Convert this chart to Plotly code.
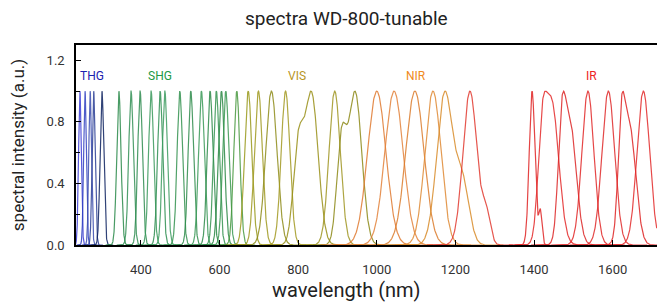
import numpy as np
import plotly.graph_objects as go

# ---- data (peak centre / FWHM in nm) ----
thg_center = [245, 258, 271, 280, 301]
thg_fwhm = [8, 8, 8, 9, 11]
thg_colors = ["#3b3bd6", "#2f3fc0", "#3a4cae", "#2b3f96", "#0d2260"]

shg_center = [344, 375, 398, 426, 449, 461, 499, 527, 554, 576, 592, 605, 616, 644]
shg_fwhm = [13, 14, 14, 15, 15, 15, 16, 16, 17, 17, 17, 18, 18, 18]
shg_colors = ["#2a8a4a", "#339156", "#2e8c50", "#3a9a5c", "#2f8f52", "#3c9c60",
              "#33924f", "#2f8c4c", "#3a9a58", "#2c8a48", "#349450", "#2a8844",
              "#3a9852", "#4a9a40"]

vis_center = [673, 699, 732, 768, 834, 893, 945]
vis_fwhm = [22, 24, 34, 26, 40, 34, 40]
vis_colors = ["#9a9a1c", "#a09a20", "#8f8c1a", "#a39a22", "#999018", "#a09622", "#8e8a18"]

nir_center = [1000, 1044, 1097, 1143, 1173, 1237]
nir_fwhm = [55, 55, 55, 48, 48, 42]
nir_colors = ["#e07a30", "#e3823a", "#dc7c2c", "#e08a34", "#d98c2a", "#e23a30"]

ir_center = [1395, 1445, 1491, 1537, 1589, 1642, 1678]
ir_fwhm = [17, 42, 38, 36, 38, 38, 38]
ir_colors = ["#e02424", "#e42a2a", "#dd2626", "#e22828", "#e02a2a", "#df2424", "#e32a2a"]

# secondary shoulders: (group, index, centre nm, relative amplitude, fwhm nm)
shoulders = [
    ("vis", 4, 800, 0.62, 30),
    ("vis", 6, 910, 0.65, 28),
    ("nir", 4, 1218, 0.40, 40),
    ("nir", 5, 1278, 0.20, 25),
    ("ir", 0, 1416, 0.22, 10),
    ("ir", 1, 1420, 0.60, 25),
    ("ir", 2, 1470, 0.75, 22),
    ("ir", 5, 1622, 0.75, 20),
]
last_end = 1712  # last IR trace stops here

group_labels = ["THG", "SHG", "VIS", "NIR", "IR"]
group_label_x = [276, 449, 797, 1100, 1547]
group_label_colors = ["#1a22b0", "#229944", "#b8961e", "#f08a20", "#ee2222"]

groups = {
    "thg": (thg_center, thg_fwhm, thg_colors),
    "shg": (shg_center, shg_fwhm, shg_colors),
    "vis": (vis_center, vis_fwhm, vis_colors),
    "nir": (nir_center, nir_fwhm, nir_colors),
    "ir": (ir_center, ir_fwhm, ir_colors),
}


def gauss(x, c, w):
    s = w / 2.3548
    return np.exp(-0.5 * ((x - c) / s) ** 2)


fig = go.Figure()
for gname, (cen, fw, cols) in groups.items():
    for i, (c, w, col) in enumerate(zip(cen, fw, cols)):
        extra = [s for s in shoulders if s[0] == gname and s[1] == i]
        lo = c - 2.6 * w
        hi = c + 2.6 * w
        for s in extra:
            lo = min(lo, s[2] - 2.6 * s[4])
            hi = max(hi, s[2] + 2.6 * s[4])
        if gname == "ir" and i == len(cen) - 1:
            hi = last_end
        x = np.linspace(lo, hi, 300)
        y = gauss(x, c, w)
        for s in extra:
            y = y + s[3] * gauss(x, s[2], s[4])
        y = y / y.max()
        fig.add_trace(go.Scatter(x=x, y=y, mode="lines",
                                 line=dict(color=col, width=1.2),
                                 opacity=0.85, showlegend=False, hoverinfo="skip"))

for lab, lx, lc in zip(group_labels, group_label_x, group_label_colors):
    fig.add_annotation(x=lx, y=1.1, text=lab, showarrow=False,
                       font=dict(family="Roboto", size=12, color=lc))

# x-axis title (slightly left of the plot centre, as in the reference)
fig.add_annotation(x=0.46, xref="paper", y=-0.225, yref="paper",
                   text="wavelength (nm)", showarrow=False, yanchor="middle",
                   font=dict(family="Roboto", size=20, color="#222"))

# the page places the figure 8px from the top-left corner
fig.update_layout(
    width=657, height=297,
    margin=dict(l=68, r=2, t=37, b=60),
    paper_bgcolor="white", plot_bgcolor="white",
    font=dict(family="Roboto", color="#333"),
    title=dict(text="spectra WD-800-tunable", x=0.515, xref="container",
               xanchor="center", y=0.966, yref="container", yanchor="middle",
               font=dict(family="Roboto", size=19, color="#222")),
)
fig.update_xaxes(range=[235, 1728], showgrid=False, zeroline=False, automargin=False,
                 showline=True, linecolor="black", linewidth=1.5, mirror=True,
                 ticks="inside", ticklen=5, tickcolor="black", ticklabelstandoff=12,
                 tickvals=[400, 600, 800, 1000, 1200, 1400, 1600],
                 tickfont=dict(size=13, color="#333"))
fig.update_yaxes(range=[0, 1.3], showgrid=False, zeroline=False, automargin=False,
                 showline=True, linecolor="black", linewidth=1.5, mirror=True,
                 ticks="inside", ticklen=5, tickcolor="black", ticklabelstandoff=7,
                 tickvals=[0, 0.4, 0.8, 1.2], tickformat=".1f",
                 minor=dict(ticks="inside", ticklen=4, tickcolor="black",
                            tickvals=[0.2, 0.6, 1.0]),
                 tickfont=dict(size=13, color="#333"),
                 title=dict(text="spectral intensity (a.u.)",
                            font=dict(size=17, color="#222"), standoff=20))

fig.write_html("out.html")
